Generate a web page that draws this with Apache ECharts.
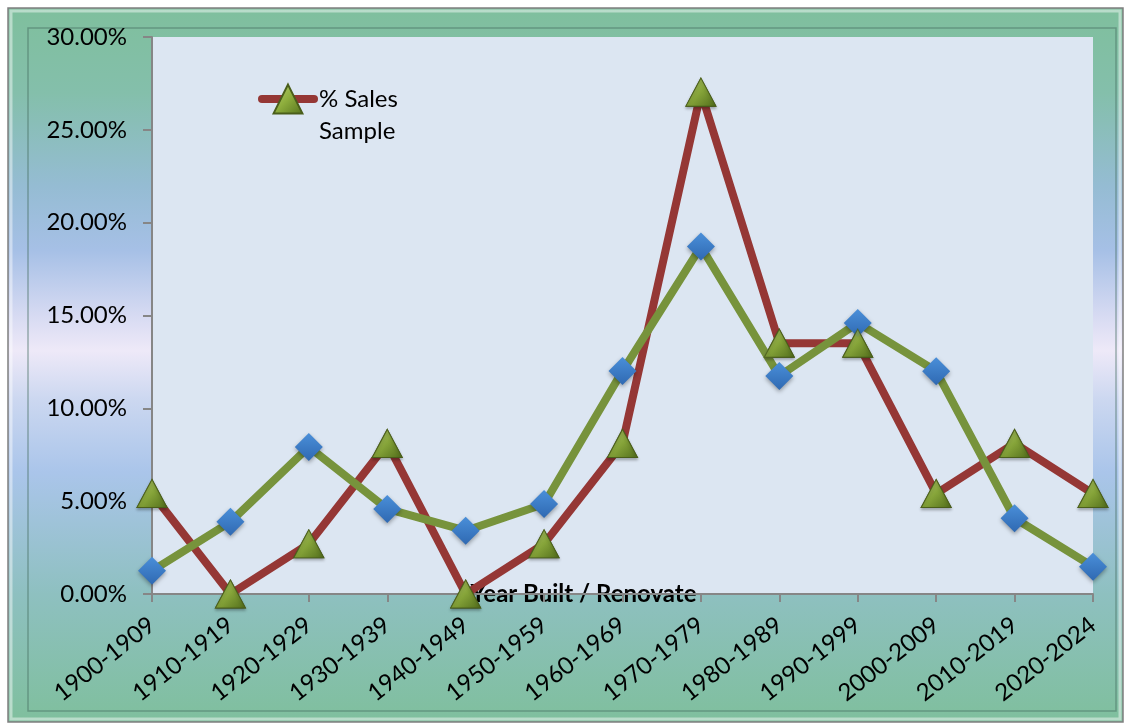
<!DOCTYPE html>
<html>
<head>
<meta charset="utf-8">
<script src="https://cdn.jsdelivr.net/npm/echarts@6/dist/echarts.min.js"></script>
<style>
  html, body { margin: 0; padding: 0; background: #fff; }
  #chart { width: 1128px; height: 727px; }
</style>
</head>
<body>
<div id="chart"></div>
<script>
// decades on the x axis
const categories = ['1900-1909', '1910-1919', '1920-1929', '1930-1939', '1940-1949', '1950-1959',
  '1960-1969', '1970-1979', '1980-1989', '1990-1999', '2000-2009', '2010-2019', '2020-2024']

// % of sales sample (red line, triangles)
const salesPct = [5.41, 0, 2.70, 8.11, 0, 2.70, 8.11, 27.03, 13.51, 13.51, 5.41, 8.11, 5.41]
// second series (green line, diamonds)
const otherPct = [1.25, 3.89, 7.92, 4.58, 3.41, 4.85, 12.01, 18.71, 11.74, 14.6, 12.0, 4.08, 1.47]

const yTicks = { min: 0, max: 30, interval: 5 }

const font = 'Lato, "Open Sans", sans-serif'
const redLine = '#953735'
const greenLine = '#77933c'

const triangleFill = new echarts.graphic.LinearGradient(0, 0, 1, 1, [
  { offset: 0, color: '#bcd474' },
  { offset: 0.5, color: '#8dad3c' },
  { offset: 1, color: '#55721c' }
])
const diamondFill = new echarts.graphic.LinearGradient(0, 0, 0, 1, [
  { offset: 0, color: '#4a8fd9' },
  { offset: 1, color: '#2f69b2' }
])
const frameFill = new echarts.graphic.LinearGradient(0, 0, 0, 1, [
  { offset: 0, color: '#7fbf9d' },
  { offset: 0.12, color: '#84bfab' },
  { offset: 0.25, color: '#95bcd3' },
  { offset: 0.34, color: '#a6c0e6' },
  { offset: 0.43, color: '#d6daf2' },
  { offset: 0.48, color: '#eee9f8' },
  { offset: 0.55, color: '#cbd7f0' },
  { offset: 0.65, color: '#aac5ea' },
  { offset: 0.82, color: '#8ec0c0' },
  { offset: 1, color: '#7fbf9d' }
])

const chart = echarts.init(document.getElementById('chart'))

chart.setOption({
  animation: false,
  graphic: [
    {
      type: 'rect', z: -10,
      shape: { x: 8, y: 8, width: 1115, height: 714 },
      style: { fill: frameFill, stroke: '#7f7f7f', lineWidth: 1.5 }
    },
    {
      type: 'rect', z: -9,
      shape: { x: 11, y: 11, width: 1109, height: 708 },
      style: { fill: 'none', stroke: 'rgba(255,255,255,0.45)', lineWidth: 3 }
    },
    {
      type: 'rect', z: -9,
      shape: { x: 28, y: 28, width: 1088, height: 683 },
      style: { fill: 'none', stroke: 'rgba(70,110,95,0.5)', lineWidth: 1.5 }
    }
  ],
  grid: {
    left: 152, right: 35, top: 37, bottom: 133,
    show: true, backgroundColor: '#dce6f2', borderWidth: 0
  },
  legend: {
    data: ['% Sales Sample'],
    left: 253, top: 46,
    itemWidth: 52, itemHeight: 36,
    // blank first line so "% Sales" sits level with the icon
    formatter: () => ' \n% Sales\nSample',
    lineStyle: { width: 8, cap: 'round' },
    textStyle: { fontFamily: font, fontSize: 24, color: '#000', lineHeight: 32 }
  },
  xAxis: {
    type: 'category',
    data: categories,
    boundaryGap: false,
    name: 'Year Built / Renovate',
    nameLocation: 'middle',
    nameGap: -12,
    nameMoveOverlap: false,
    nameTextStyle: { fontFamily: font, fontSize: 24, fontWeight: 'bold', color: '#000', padding: [0, 78, 0, 0] },
    axisLine: { lineStyle: { color: '#868686', width: 2 } },
    axisTick: { alignWithLabel: true, length: 8, lineStyle: { color: '#868686', width: 2 } },
    axisLabel: { rotate: 38, margin: 28, fontFamily: font, fontSize: 24, color: '#000', interval: 0 }
  },
  yAxis: {
    type: 'value',
    min: yTicks.min, max: yTicks.max, interval: yTicks.interval,
    axisLine: { show: true, lineStyle: { color: '#868686', width: 2 } },
    axisTick: { show: true, length: 9, lineStyle: { color: '#868686', width: 2 } },
    splitLine: { show: false },
    axisLabel: {
      margin: 25, fontFamily: font, fontSize: 24, color: '#000',
      formatter: v => v.toFixed(2) + '%'
    }
  },
  series: [
    {
      name: '% Sales Sample',
      type: 'line',
      data: salesPct,
      z: 2,
      clip: false,
      symbol: 'triangle',
      symbolSize: [30, 28],
      lineStyle: { color: redLine, width: 8 },
      itemStyle: { color: triangleFill, borderColor: '#4a5e1a', borderWidth: 1 }
    },
    {
      name: 'Other',
      type: 'line',
      data: otherPct,
      z: 3,
      clip: false,
      symbol: 'diamond',
      symbolSize: 28,
      lineStyle: { color: greenLine, width: 8 },
      itemStyle: {
        color: diamondFill, borderWidth: 0,
        shadowColor: 'rgba(0,0,0,0.35)', shadowBlur: 4, shadowOffsetY: 2
      }
    },
    {
      // triangles drawn again on top of the green line
      name: '% Sales Sample',
      type: 'scatter',
      data: salesPct,
      z: 4,
      clip: false,
      symbol: 'triangle',
      symbolSize: [30, 28],
      itemStyle: {
        color: triangleFill, borderColor: '#4a5e1a', borderWidth: 1,
        shadowColor: 'rgba(0,0,0,0.35)', shadowBlur: 3, shadowOffsetY: 2
      }
    }
  ]
})
</script>
</body>
</html>
